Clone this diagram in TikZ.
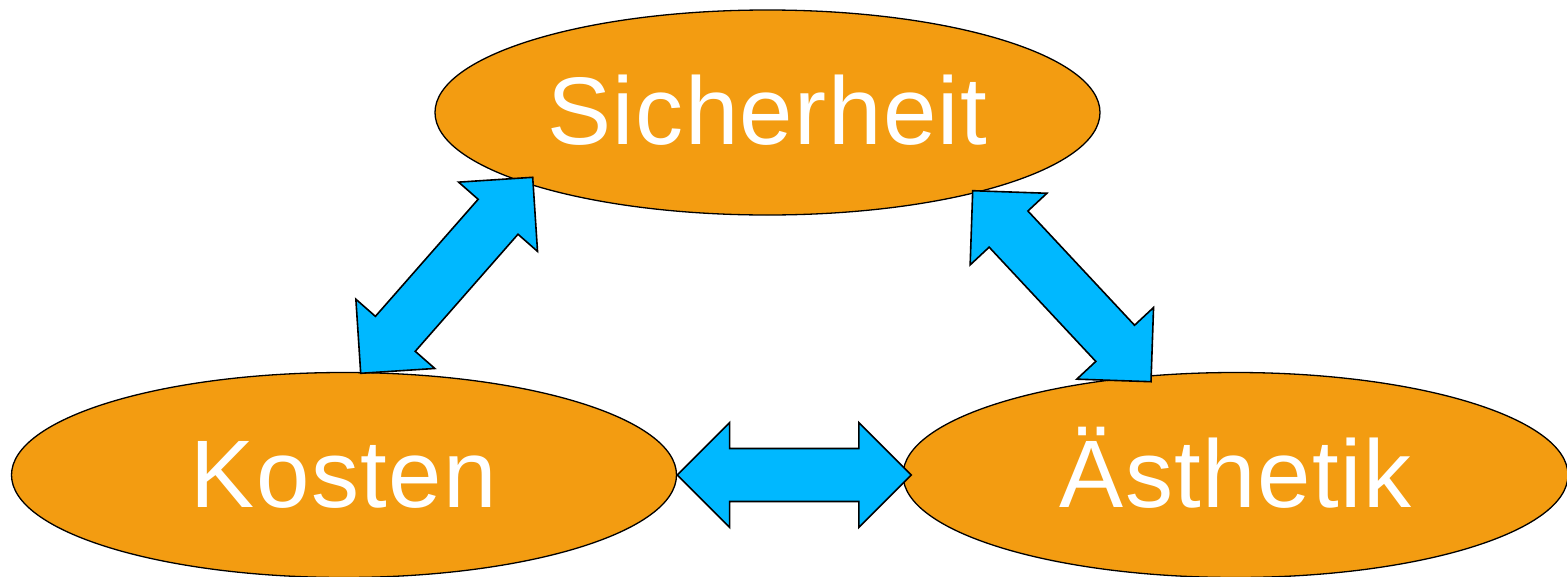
\documentclass[tikz,border=0pt]{standalone}
\usepackage{fontspec}
\setmainfont{Liberation Sans}[LetterSpace=1.5]
\usetikzlibrary{shapes.geometric,calc}
\definecolor{ovalorange}{RGB}{243,156,17}
\definecolor{arrowblue}{RGB}{0,184,255}
\tikzset{
  oval/.style={ellipse, draw=black, line width=1.3pt, fill=ovalorange,
    minimum width=665pt, minimum height=205pt, inner sep=0pt,
    text=white, font=\fontsize{96}{110}\selectfont,
    text height=69pt, text depth=4.5pt},
  blockarrow/.style={draw=black, line width=1.6pt, fill=arrowblue, line join=miter}
}
% double block arrow between two named coordinates
\newcommand\dblblockarrow[2]{%
  \path ($(#1)!52.5pt!(#2)$) coordinate (hA) ($(#2)!52.5pt!(#1)$) coordinate (hB);
  \draw[blockarrow] (#1)
    -- ($(hA)!52.5pt!90:(#2)$) -- ($(hA)!26.5pt!90:(#2)$)
    -- ($(hB)!26.5pt!-90:(#1)$) -- ($(hB)!52.5pt!-90:(#1)$)
    -- (#2)
    -- ($(hB)!52.5pt!90:(#1)$) -- ($(hB)!26.5pt!90:(#1)$)
    -- ($(hA)!26.5pt!-90:(#2)$) -- ($(hA)!52.5pt!-90:(#2)$)
    -- cycle;}
\begin{document}
\begin{tikzpicture}[x=1pt,y=-1pt]
\useasboundingbox (0,0) rectangle (1567,576);
\node[oval] (sich) at (767.5,112.5) {Sicherheit};
\node[oval] (kost) at (344,475) {Kosten};
\node[oval] (aest) at (1235.5,475) {Ästhetik};
% arrow end points on the ellipse borders
\coordinate (sk) at (532.7,177.3);
\coordinate (ks) at (360.7,373.3);
\coordinate (sa) at (972.7,190.7);
\coordinate (as) at (1151,381.7);
\coordinate (ka) at (kost.east);
\coordinate (ak) at ($(aest.west)+(9,0)$);
\dblblockarrow{sk}{ks}
\dblblockarrow{sa}{as}
\dblblockarrow{ka}{ak}
\end{tikzpicture}
\end{document}
